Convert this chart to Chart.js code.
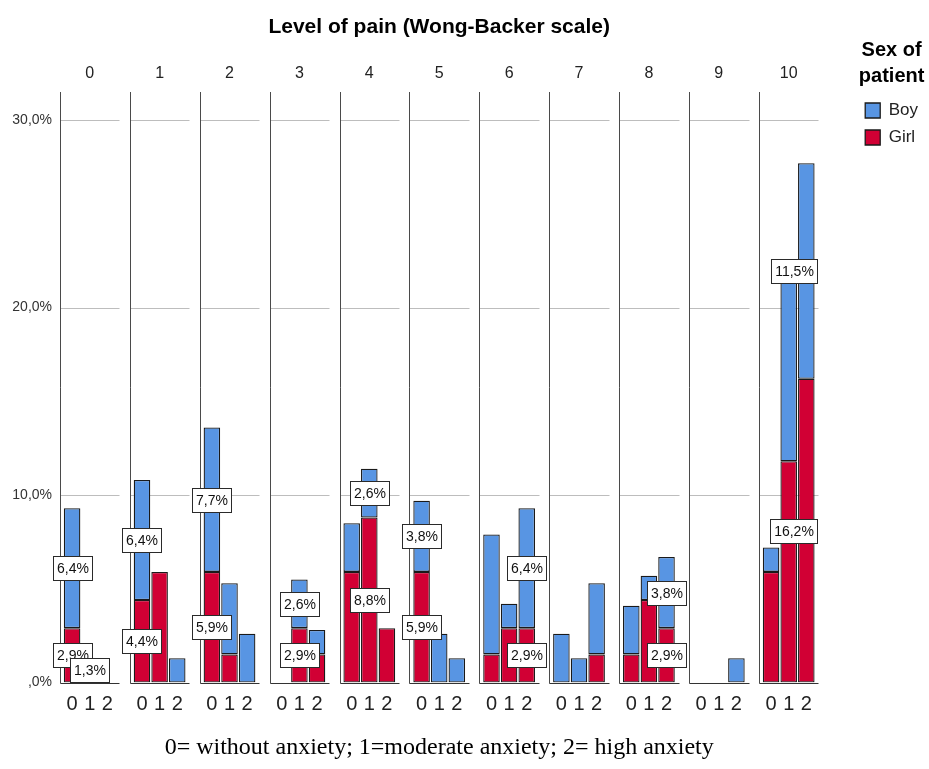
<!DOCTYPE html>
<html>
<head>
<meta charset="utf-8">
<script src="https://cdn.jsdelivr.net/npm/chart.js@4.4.1/dist/chart.umd.min.js"></script>
<style>
  html, body { margin: 0; padding: 0; background: #fff; }
  #wrap { position: relative; width: 929px; height: 769px; }
</style>
</head>
<body>
<div id="wrap"><canvas id="chartPain"></canvas></div>
<script>
// Data (percent of patients)
var painLevels = ['0', '1', '2', '3', '4', '5', '6', '7', '8', '9', '10'];
var anxietyLevels = ['0', '1', '2'];
// one value per pain level, for each anxiety level
var girlAnx0 = [2.9, 4.4, 5.9, 0, 5.9, 5.9, 1.5, 0, 1.5, 0, 5.9];
var girlAnx1 = [0, 5.9, 1.5, 2.9, 8.8, 0, 2.9, 0, 4.4, 0, 11.8];
var girlAnx2 = [0, 0, 0, 1.5, 2.9, 0, 2.9, 1.5, 2.9, 0, 16.2];
var boyAnx0 = [6.4, 6.4, 7.7, 0, 2.6, 3.8, 6.4, 2.6, 2.6, 0, 1.3];
var boyAnx1 = [1.3, 0, 3.8, 2.6, 2.6, 2.6, 1.3, 1.3, 1.3, 0, 10.3];
var boyAnx2 = [0, 1.3, 2.6, 1.3, 0, 1.3, 6.4, 3.8, 3.8, 1.3, 11.5];
var yTicks = [0, 10, 20, 30];
// bars that carry value labels: [pain level, anxiety level]
var labelledBars = [[0, 0], [0, 1], [1, 0], [2, 0], [3, 1], [4, 1], [5, 0], [6, 2], [8, 2], [10, 2]];

// panel layout (one panel = 1 unit on the x scale)
var BAR_START = 0.173, BAR_STEP = 0.252, PANEL_END = 0.85, PANEL_MID = 0.425;
function barX(p, a) { return p + BAR_START + BAR_STEP * a; }

function series(rows) {
    var pts = [];
    painLevels.forEach(function (p, i) {
        rows.forEach(function (row, a) {
            pts.push({ x: barX(i, a), y: row[i] ? row[i] : null });
        });
    });
    return pts;
}

var bottomTicks = [];
painLevels.forEach(function (p, i) {
    anxietyLevels.forEach(function (a, j) { bottomTicks.push(barX(i, j)); });
});
var topTicks = painLevels.map(function (p, i) { return i + PANEL_MID; });

function pct(v) { return v.toFixed(1).replace('.', ',') + '%'; }

var SANS = '"Liberation Sans", Arial, sans-serif';
Chart.defaults.font.family = SANS;

// gridlines, panel separators and baselines
var panelLines = {
    id: 'panelLines',
    beforeDatasetsDraw: function (chart) {
        var ctx = chart.ctx, x = chart.scales.x, y = chart.scales.y, area = chart.chartArea;
        var y0 = Math.round(y.getPixelForValue(0)) + 0.5;
        ctx.save();
        ctx.lineWidth = 1;
        painLevels.forEach(function (p, i) {
            var left = Math.round(x.getPixelForValue(i)) + 0.5;
            var right = Math.round(x.getPixelForValue(i + PANEL_END)) + 0.5;
            ctx.strokeStyle = '#bdbdbd';
            yTicks.slice(1).forEach(function (t) {
                var yy = Math.round(y.getPixelForValue(t)) + 0.5;
                ctx.beginPath(); ctx.moveTo(left, yy); ctx.lineTo(right, yy); ctx.stroke();
            });
            ctx.strokeStyle = '#4a4a4a';
            ctx.beginPath(); ctx.moveTo(left, area.top); ctx.lineTo(left, y0); ctx.stroke();
            ctx.strokeStyle = '#333';
            ctx.beginPath(); ctx.moveTo(left, y0); ctx.lineTo(right, y0); ctx.stroke();
        });
        ctx.restore();
    }
};

// boxed value labels
var valueBoxes = {
    id: 'valueBoxes',
    afterDatasetsDraw: function (chart) {
        var ctx = chart.ctx, area = chart.chartArea;
        ctx.save();
        ctx.font = '14px ' + SANS;
        ctx.textAlign = 'center';
        ctx.textBaseline = 'middle';
        ctx.lineWidth = 1;
        labelledBars.forEach(function (lb) {
            var idx = lb[0] * 3 + lb[1];
            chart.data.datasets.forEach(function (ds, d) {
                var v = ds.data[idx].y;
                if (v == null) return;
                var bar = chart.getDatasetMeta(d).data[idx];
                var text = pct(v);
                var w = Math.round(ctx.measureText(text).width + 7), h = 24;
                var cx = bar.x, cy = (bar.y + bar.base) / 2;
                if (cx + w / 2 > area.right - 1) cx = area.right - 1 - w / 2;
                var bx = Math.round(cx - w / 2) + 0.5, by = Math.round(cy - h / 2) + 0.5;
                ctx.fillStyle = '#fff';
                ctx.fillRect(bx, by, w, h);
                ctx.strokeStyle = '#2a2a2a';
                ctx.strokeRect(bx, by, w, h);
                ctx.fillStyle = '#111';
                ctx.fillText(text, bx + w / 2, by + h / 2 + 1);
            });
        });
        ctx.restore();
    }
};

var barStyle = { borderColor: '#1a1a1a', borderWidth: 1.3, borderSkipped: false, barPercentage: 0.94, categoryPercentage: 1 };

var data = {
    datasets: [
        Object.assign({ label: 'Girl', data: series([girlAnx0, girlAnx1, girlAnx2]), backgroundColor: '#d10034' }, barStyle),
        Object.assign({ label: 'Boy', data: series([boyAnx0, boyAnx1, boyAnx2]), backgroundColor: '#5895e3' }, barStyle)
    ]
};

var options = {
    responsive: true,
    maintainAspectRatio: false,
    animation: false,
    events: [],
    layout: { padding: { left: 0, right: 1, top: 0, bottom: 0 } },
    scales: {
        x: {
            type: 'linear', position: 'bottom', min: 0, max: 10.85, bounds: 'data', offset: false, stacked: true,
            grid: { display: false, drawTicks: false }, border: { display: false },
            afterBuildTicks: function (s) { s.ticks = bottomTicks.map(function (v) { return { value: v }; }); },
            afterFit: function (s) { s.height = 86.5; },
            ticks: {
                autoSkip: false, maxRotation: 0, padding: 9.5, color: '#222', font: { size: 20 },
                callback: function (v, i) { return anxietyLevels[i % 3]; }
            },
            title: {
                display: true, text: '0= without anxiety; 1=moderate anxiety; 2= high anxiety', color: '#000',
                font: { family: '"Liberation Serif", "Times New Roman", serif', size: 24 },
                padding: { top: 0, bottom: 6.6 }
            }
        },
        xTop: {
            type: 'linear', position: 'top', min: 0, max: 10.85, bounds: 'data', offset: false,
            grid: { display: false, drawTicks: false }, border: { display: false },
            afterBuildTicks: function (s) { s.ticks = topTicks.map(function (v) { return { value: v }; }); },
            afterFit: function (s) { s.height = 92; },
            ticks: {
                autoSkip: false, maxRotation: 0, padding: 8.4, color: '#222', font: { size: 16 },
                callback: function (v, i) { return painLevels[i]; }
            },
            title: {
                display: true, text: 'Level of pain (Wong-Backer scale)', color: '#000',
                font: { size: 21, weight: 'bold' }, padding: { top: 14.4, bottom: 0 }
            }
        },
        y: {
            type: 'linear', position: 'left', min: 0, max: 31.5, stacked: true,
            grid: { display: false, drawTicks: false }, border: { display: false },
            afterBuildTicks: function (s) { s.ticks = yTicks.map(function (v) { return { value: v }; }); },
            afterFit: function (s) { s.width = 60; },
            ticks: {
                padding: 8, color: '#333', font: { size: 14 },
                callback: function (v) { return v === 0 ? ',0%' : pct(v); }
            }
        },
        yRight: {
            type: 'linear', position: 'right',
            grid: { display: false, drawTicks: false }, border: { display: false },
            ticks: { display: false },
            afterFit: function (s) { s.width = 36.8; }
        }
    },
    plugins: {
        tooltip: { enabled: false },
        legend: {
            position: 'right',
            align: 'start',
            reverse: true,
            title: {
                display: true, text: ['Sex of', 'patient'], color: '#000',
                font: { size: 20, weight: 'bold', lineHeight: 1.3 },
                padding: { top: 40, bottom: 26 }
            },
            labels: { boxWidth: 15, boxHeight: 15, padding: 10, color: '#222', font: { size: 17 } }
        }
    }
};

// Create the chart
var ctx = document.getElementById('chartPain').getContext('2d');
var painChart = new Chart(ctx, {
    type: 'bar',
    data: data,
    options: options,
    plugins: [panelLines, valueBoxes]
});
</script>
</body>
</html>
